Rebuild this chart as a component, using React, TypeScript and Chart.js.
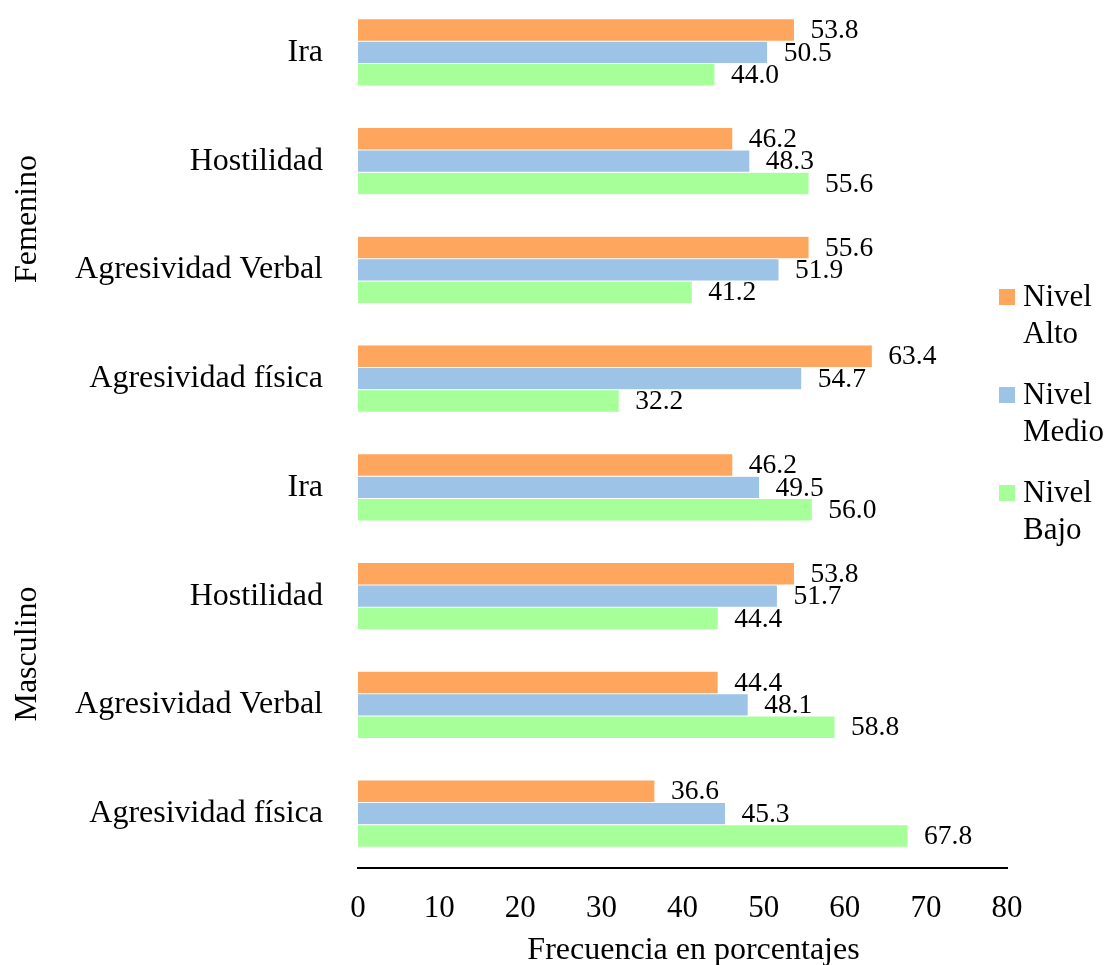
import React, { useEffect, useRef } from "react";
import { Chart, registerables } from "chart.js";

Chart.register(...registerables);

const categories = [
  "Ira",
  "Hostilidad",
  "Agresividad Verbal",
  "Agresividad física",
  "Ira",
  "Hostilidad",
  "Agresividad Verbal",
  "Agresividad física",
];
const groups = ["Femenino", "Masculino"];
const groupSize = 4;

const seriesNames = ["Nivel Alto", "Nivel Medio", "Nivel Bajo"];
const nivelAlto = [53.8, 46.2, 55.6, 63.4, 46.2, 53.8, 44.4, 36.6];
const nivelMedio = [50.5, 48.3, 51.9, 54.7, 49.5, 51.7, 48.1, 45.3];
const nivelBajo = [44.0, 55.6, 41.2, 32.2, 56.0, 44.4, 58.8, 67.8];
const seriesColors = ["#FFA65E", "#9DC3E6", "#A6FF99"];

const xTitle = "Frecuencia en porcentajes";
const xMin = 0;
const xMax = 80;
const xStep = 10;

const FONT = "'Liberation Serif', 'Times New Roman', Times, serif";

const W = 1108;
const H = 967;

const overlayPlugin = {
  id: "overlay",
  afterDatasetsDraw(chart: any) {
    const ctx = chart.ctx;
    ctx.save();
    ctx.fillStyle = "#000";
    ctx.font = `27.5px ${FONT}`;
    ctx.textAlign = "left";
    ctx.textBaseline = "middle";
    chart.data.datasets.forEach((ds: any, di: number) => {
      const meta = chart.getDatasetMeta(di);
      meta.data.forEach((el: any, i: number) => {
        const v = ds.data[i];
        ctx.fillText(Number(v).toFixed(1), el.x + 16, el.y + 1);
      });
    });
    ctx.restore();
  },
  afterDraw(chart: any) {
    const ctx = chart.ctx;
    const area = chart.chartArea;
    const yScale = chart.scales.y;
    ctx.save();
    ctx.fillStyle = "#000";

    // group labels (rotated)
    ctx.font = `32px ${FONT}`;
    groups.forEach((g, gi) => {
      let sum = 0;
      for (let k = 0; k < groupSize; k++) {
        sum += yScale.getPixelForValue(gi * groupSize + k);
      }
      const cy = sum / groupSize + 3.5;
      ctx.save();
      ctx.translate(36, cy);
      ctx.rotate(-Math.PI / 2);
      ctx.textAlign = "center";
      ctx.textBaseline = "alphabetic";
      ctx.fillText(g, 0, 0);
      ctx.restore();
    });

    // axis title
    ctx.font = `32px ${FONT}`;
    ctx.textAlign = "center";
    ctx.textBaseline = "alphabetic";
    ctx.fillText(xTitle, (area.left + area.right) / 2 + 11, 961);

    // legend
    ctx.font = `31px ${FONT}`;
    ctx.textAlign = "left";
    chart.data.datasets.forEach((ds: any, di: number) => {
      const top = 291 + di * 98;
      ctx.fillStyle = ds.backgroundColor;
      ctx.fillRect(area.right - 8, top, 16, 16);
      ctx.fillStyle = "#000";
      const lines = String(ds.label).split(" ");
      lines.forEach((ln, li) => {
        ctx.fillText(ln, area.right + 16, top + 17 + li * 37);
      });
    });
    ctx.restore();
  },
};

export default function App() {
  const ref = useRef<HTMLCanvasElement | null>(null);

  useEffect(() => {
    if (!ref.current) return;
    const series = [nivelAlto, nivelMedio, nivelBajo];
    const chart = new Chart(ref.current, {
      type: "bar",
      data: {
        labels: categories,
        datasets: series.map((d, i) => ({
          label: seriesNames[i],
          data: d,
          backgroundColor: seriesColors[i],
          borderColor: "rgba(255,255,255,0.7)",
          borderWidth: 0.5,
          categoryPercentage: 0.618,
          barPercentage: 1,
        })),
      },
      options: {
        indexAxis: "y",
        responsive: false,
        animation: false,
        devicePixelRatio: 1,
        layout: { padding: { left: 0, right: 101, top: 0, bottom: 0 } },
        plugins: {
          legend: { display: false },
          tooltip: { enabled: false },
          title: { display: false },
        },
        scales: {
          x: {
            type: "linear",
            min: xMin,
            max: xMax,
            position: "bottom",
            grid: { display: false, drawTicks: false },
            border: { display: true, color: "#000", width: 2 },
            ticks: {
              stepSize: xStep,
              color: "#000",
              padding: 22,
              font: { family: FONT, size: 31 },
            },
            afterFit: (scale: any) => {
              scale.height = 97;
              scale.paddingLeft = 0;
              scale.paddingRight = 0;
            },
          },
          y: {
            type: "category",
            position: "left",
            grid: { display: false, drawTicks: false },
            border: { display: false },
            ticks: {
              color: "#000",
              padding: 35,
              autoSkip: false,
              font: { family: FONT, size: 32 },
            },
            afterFit: (scale: any) => {
              scale.width = 358;
              scale.paddingTop = 0;
              scale.paddingBottom = 0;
            },
          },
        },
      },
      plugins: [overlayPlugin],
    });
    return () => chart.destroy();
  }, []);

  return (
    <div style={{ position: "absolute", left: 0, top: -2, width: W, height: H }}>
      <canvas ref={ref} width={W} height={H} style={{ display: "block", width: W, height: H }} />
    </div>
  );
}
